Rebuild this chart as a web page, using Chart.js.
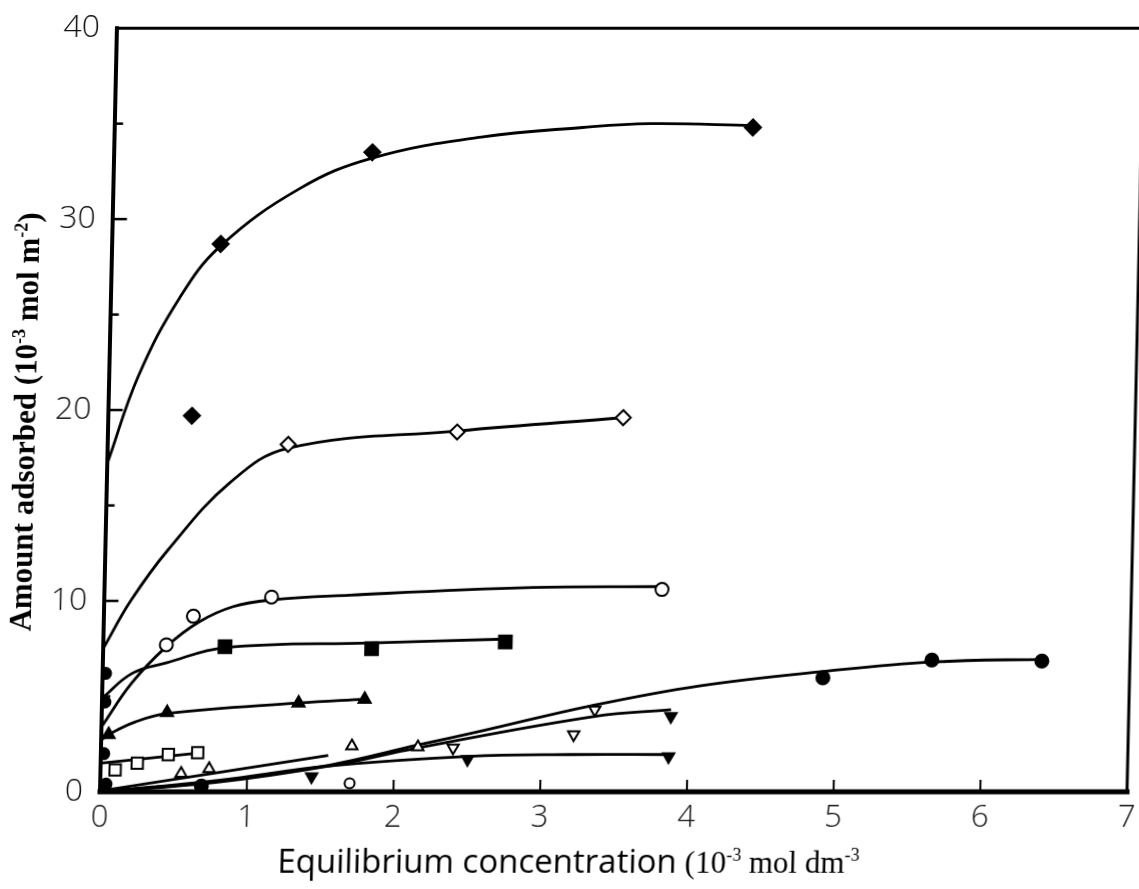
<!DOCTYPE html>
<html>
<head>
<meta charset="utf-8">
<script src="https://cdn.jsdelivr.net/npm/chart.js@4.4.1/dist/chart.umd.min.js"></script>
<style>
  html, body { margin: 0; padding: 0; background: #fff; }
  #wrap { width: 1139px; height: 889px; overflow: hidden; background: #fff; }
  canvas { display: block; transform: skewX(-1.27deg); transform-origin: 0 792px; }
</style>
</head>
<body>
<div id="wrap"><canvas id="c" width="1139" height="889"></canvas></div>
<script>
// Axis ticks
const xTicks = [0, 1, 2, 3, 4, 5, 6, 7];
const yTicks = [0, 10, 20, 30, 40];

// Filled diamonds
const markA_x = [0.57, 0.74, 1.76, 4.35];
const markA_y = [19.7, 28.7, 33.5, 34.8];
const curveA_x = [0, 0.2, 0.47, 0.74, 1.27, 1.76, 2.5, 3.19, 3.65, 4.35];
const curveA_y = [17.2, 21.8, 25.9, 28.6, 31.6, 33.2, 34.3, 34.8, 35.0, 34.9];

// Open diamonds
const markB_x = [1.23, 2.38, 3.51];
const markB_y = [18.2, 18.85, 19.6];
const curveB_x = [0, 0.18, 0.43, 0.84, 1.23, 2.38, 3.51];
const curveB_y = [7.5, 10.0, 12.7, 16.2, 18.0, 18.9, 19.6];

// Open circles
const markC_x = [0.43, 0.61, 1.14, 3.80];
const markC_y = [7.7, 9.2, 10.2, 10.6];
const curveC_x = [0, 0.2, 0.43, 0.65, 0.88, 1.14, 1.67, 2.92, 3.80];
const curveC_y = [3.4, 5.7, 7.6, 8.9, 9.7, 10.05, 10.3, 10.7, 10.75];

// Filled squares
const markD_x = [0.83, 1.83, 2.74];
const markD_y = [7.6, 7.5, 7.85];
const curveD_x = [0, 0.2, 0.43, 0.83, 1.83, 2.74];
const curveD_y = [4.9, 6.2, 6.75, 7.55, 7.8, 8.0];

// Filled triangles
const markE_x = [0.05, 0.445, 1.34, 1.79];
const markE_y = [3.0, 4.15, 4.65, 4.85];
const curveE_x = [0, 0.05, 0.23, 0.445, 1.34, 1.79];
const curveE_y = [2.7, 3.0, 3.66, 4.1, 4.65, 4.85];

// Open squares
const markF_x = [0.10, 0.25, 0.46, 0.66];
const markF_y = [1.15, 1.5, 1.95, 2.05];
const curveF_x = [0, 0.69];
const curveF_y = [1.5, 2.05];

// Open triangles
const markG_x = [0.55, 0.74, 1.71, 2.16];
const markG_y = [0.95, 1.2, 2.4, 2.35];
const curveG_x = [0, 1.55];
const curveG_y = [0.05, 1.9];

// Filled circles
const markH_x = [0.69, 4.91, 5.65, 6.40];
const markH_y = [0.3, 5.97, 6.9, 6.85];
const curveH_x = [0, 0.8, 1.56, 2.16, 2.6, 3.33, 4.07, 4.91, 5.66, 6.44];
const curveH_y = [0, 0.55, 1.4, 2.45, 3.2, 4.5, 5.55, 6.3, 6.8, 6.95];

// Open inverted triangles
const markI_x = [2.40, 3.22, 3.36];
const markI_y = [2.3, 3.0, 4.3];
const curveI_x = [0, 0.8, 1.56, 2.16, 3.36, 3.88];
const curveI_y = [0, 0.5, 1.35, 2.3, 3.95, 4.3];

// Filled inverted triangles
const markJ_x = [1.44, 2.50, 3.87, 3.88];
const markJ_y = [0.8, 1.7, 1.85, 3.95];
const curveJ_x = [0, 0.8, 1.56, 2.5, 3.2, 3.87];
const curveJ_y = [0, 0.6, 1.35, 1.85, 1.95, 1.95];

// Low-concentration points on the ordinate
const axisPts_x = [0.02, 0.02, 0.02, 0.04];
const axisPts_y = [6.2, 4.7, 2.0, 0.4];
const strayOpen_x = [1.70];
const strayOpen_y = [0.45];

const zip = (xs, ys) => xs.map((x, i) => ({ x: x, y: ys[i] }));

function curve(xs, ys) {
  return {
    type: 'line',
    data: zip(xs, ys),
    borderColor: '#000',
    borderWidth: 2.8,
    pointRadius: 0,
    fill: false,
    tension: 0.4,
    order: 2
  };
}

function marks(xs, ys, style, r, filled, rot) {
  return {
    type: 'scatter',
    data: zip(xs, ys),
    showLine: false,
    pointStyle: style,
    pointRadius: r,
    pointRotation: rot || 0,
    pointBackgroundColor: filled ? '#000' : '#fff',
    pointBorderColor: '#000',
    pointBorderWidth: 2,
    order: 1
  };
}

const datasets = [
  curve(curveA_x, curveA_y),
  curve(curveB_x, curveB_y),
  curve(curveC_x, curveC_y),
  curve(curveD_x, curveD_y),
  curve(curveE_x, curveE_y),
  curve(curveF_x, curveF_y),
  curve(curveG_x, curveG_y),
  curve(curveH_x, curveH_y),
  curve(curveI_x, curveI_y),
  curve(curveJ_x, curveJ_y),
  marks(markA_x, markA_y, 'rectRot', 8, true),
  marks(markB_x, markB_y, 'rectRot', 7.5, false),
  marks(markC_x, markC_y, 'circle', 6.5, false),
  marks(markD_x, markD_y, 'rect', 9, true),
  marks(markE_x, markE_y, 'triangle', 7, true),
  marks(markF_x, markF_y, 'rect', 8, false),
  marks(markG_x, markG_y, 'triangle', 6.5, false),
  marks(markH_x, markH_y, 'circle', 6.5, true),
  marks(markI_x, markI_y, 'triangle', 6.5, false, 180),
  marks(markJ_x, markJ_y, 'triangle', 6.5, true, 180),
  marks(axisPts_x, axisPts_y, 'circle', 5.5, true),
  marks(strayOpen_x, strayOpen_y, 'circle', 5, false)
];

// Draws a sequence of text runs (with superscripts) centred on (cx, cy)
function drawRuns(ctx, runs, cx, cy, rotate) {
  ctx.save();
  ctx.translate(cx, cy);
  if (rotate) ctx.rotate(-Math.PI / 2);
  ctx.textBaseline = 'alphabetic';
  ctx.textAlign = 'left';
  let total = 0;
  runs.forEach(r => { ctx.font = r.font; total += ctx.measureText(r.t).width + (r.gap || 0); });
  let x = -total / 2;
  runs.forEach(r => {
    ctx.font = r.font;
    ctx.fillStyle = '#000';
    ctx.fillText(r.t, x, r.dy || 0);
    x += ctx.measureText(r.t).width + (r.gap || 0);
  });
  ctx.restore();
}

const framePlugin = {
  id: 'frameAndTicks',
  afterDatasetsDraw(chart) {
    const ctx = chart.ctx;
    const a = chart.chartArea;
    const xs = chart.scales.x, ys = chart.scales.y;
    ctx.save();
    ctx.strokeStyle = '#000';
    ctx.lineCap = 'square';
    // frame
    ctx.lineWidth = 3;
    ctx.beginPath(); ctx.moveTo(a.left, a.top); ctx.lineTo(a.right + 14, a.top); ctx.stroke();
    ctx.lineWidth = 3;
    ctx.beginPath(); ctx.moveTo(a.right, a.top); ctx.lineTo(a.right, a.bottom); ctx.stroke();
    ctx.lineWidth = 4;
    ctx.beginPath(); ctx.moveTo(a.left, a.top); ctx.lineTo(a.left, a.bottom); ctx.stroke();
    ctx.lineWidth = 5;
    ctx.beginPath(); ctx.moveTo(a.left, a.bottom); ctx.lineTo(a.right, a.bottom); ctx.stroke();
    // inward ticks on the ordinate
    ctx.lineWidth = 2.5;
    for (let v = 5; v < 40; v += 5) {
      const y = ys.getPixelForValue(v);
      const len = (v % 10 === 0) ? 13 : 7;
      ctx.beginPath(); ctx.moveTo(a.left, y); ctx.lineTo(a.left + len, y); ctx.stroke();
    }
    // inward ticks on the abscissa
    ctx.lineWidth = 2;
    for (let v = 1; v < 7; v++) {
      const x = xs.getPixelForValue(v);
      ctx.beginPath(); ctx.moveTo(x, a.bottom - 3); ctx.lineTo(x, a.bottom - 11); ctx.stroke();
    }
    ctx.restore();
  },
  afterDraw(chart) {
    const ctx = chart.ctx;
    const sans = '"Open Sans", "Lato", sans-serif';
    const serif = '"Liberation Serif", "Times New Roman", serif';
    drawRuns(ctx, [
      { t: 'Equilibrium concentration', font: '33px ' + sans, gap: 8 },
      { t: '(10', font: '31px ' + serif },
      { t: '-3', font: '18px ' + serif, dy: -12 },
      { t: ' mol dm', font: '31px ' + serif },
      { t: '-3', font: '18px ' + serif, dy: -12 }
    ], 570, 873, false);
    drawRuns(ctx, [
      { t: 'Amount adsorbed (10', font: 'bold 31px ' + serif },
      { t: '-3', font: 'bold 18px ' + serif, dy: -12 },
      { t: ' mol m', font: 'bold 31px ' + serif },
      { t: '-2', font: 'bold 18px ' + serif, dy: -12 },
      { t: ')', font: 'bold 31px ' + serif }
    ], 27, 422, true);
  }
};

new Chart(document.getElementById('c'), {
  data: { datasets: datasets },
  options: {
    responsive: false,
    animation: false,
    events: [],
    layout: { padding: { top: 28, right: 12, left: 0, bottom: 0 } },
    plugins: { legend: { display: false }, tooltip: { enabled: false } },
    scales: {
      x: {
        type: 'linear',
        min: 0, max: 7,
        afterFit: s => { s.height = 97; },
        afterBuildTicks: s => { s.ticks = xTicks.map(v => ({ value: v })); },
        grid: { display: false },
        border: { display: false },
        ticks: {
          padding: 0,
          color: '#111',
          font: { family: '"Open Sans", sans-serif', size: 31, weight: '300' }
        }
      },
      y: {
        type: 'linear',
        min: 0, max: 40,
        afterFit: s => { s.width = 100; },
        afterBuildTicks: s => { s.ticks = yTicks.map(v => ({ value: v })); },
        grid: { display: false },
        border: { display: false },
        ticks: {
          padding: 9,
          color: '#111',
          font: { family: '"Open Sans", sans-serif', size: 32, weight: '300' }
        }
      }
    }
  },
  plugins: [framePlugin]
});
</script>
</body>
</html>
